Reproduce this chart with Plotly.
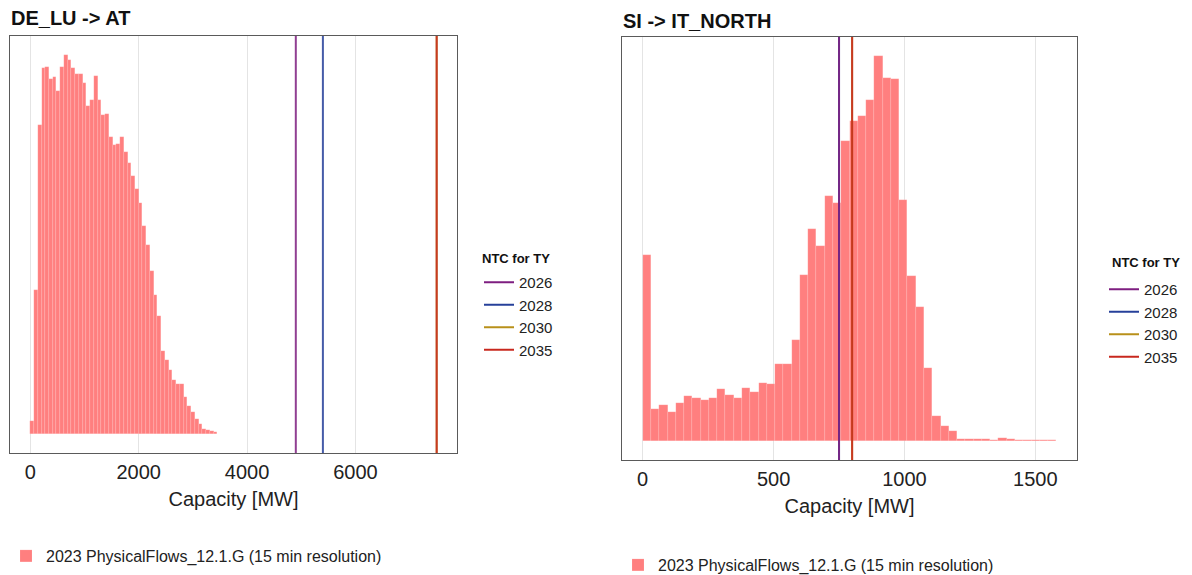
import numpy as np
import plotly.graph_objects as go

# ---------------- data ----------------
ntc_years = ["2026", "2028", "2030", "2035"]
de_at_ntc = [4900, 5400, 7500, 7500]
si_it_ntc = [750, 750, 800, 800]

hist_name = "2023 PhysicalFlows_12.1.G (15 min resolution)"
legend_title = "NTC for TY"
x_title = "Capacity [MW]"
panel_titles = ["DE_LU -> AT", "SI -> IT_NORTH"]

# DE_LU -> AT histogram: 50 bins between these edges
de_at_bin_range = [0, 3450]
de_at_counts = [40, 430, 920, 1092, 1095, 1058, 1063, 1023, 1095, 1130,
                1115, 1090, 1073, 1073, 1045, 977, 995, 1067, 995, 950,
                955, 885, 863, 865, 885, 840, 808, 770, 730, 690,
                620, 565, 485, 415, 352, 247, 220, 190, 160, 150,
                150, 110, 85, 65, 45, 30, 15, 13, 10, 5]

# SI -> IT_NORTH histogram: 50 bins between these edges
si_it_bin_range = [0, 1580]
si_it_counts = [1106, 190, 216, 170, 222, 266, 256, 240, 252, 306,
                272, 252, 316, 290, 346, 340, 460, 460, 600, 990,
                1260, 1160, 1456, 1416, 1786, 1902, 1936, 2032, 2290, 2162,
                2152, 1436, 980, 796, 432, 150, 90, 60, 10, 12,
                12, 10, 2, 16, 10, 4, 6, 4, 4, 4]

de_at_ticks = [0, 2000, 4000, 6000]
si_it_ticks = [0, 500, 1000, 1500]

# ---------------- styles ----------------
PAGE_MARGIN = 8            # default body margin of the html page
W, H = 1192 - PAGE_MARGIN, 575 - PAGE_MARGIN
FONT = "Liberation Sans, Arial, sans-serif"
ntc_colors = ["#7E1E80", "#26409A", "#B8901A", "#C8281E"]
line_draw_order = [1, 0, 2, 3]   # which NTC line is painted first
hist_color = "#FF7F7F"
grid_color = "#E4E4E4"
frame_color = "#5A5A5A"
text_color = "#222222"


def px_x(p):
    return (p - PAGE_MARGIN) / W


def px_y(p):
    return 1 - (p - PAGE_MARGIN) / H


def bins(rng, counts):
    edges = np.linspace(rng[0], rng[1], len(counts) + 1)
    centers = (edges[:-1] + edges[1:]) / 2
    return centers, edges[1] - edges[0]


def padded(lo, hi, frac=0.05):
    d = hi - lo
    return [lo - frac * d, hi + frac * d]


fig = go.Figure()

panels = [
    dict(counts=de_at_counts, rng=de_at_bin_range, ntc=de_at_ntc, ticks=de_at_ticks,
         xa="x", ya="y", lg_ntc="legend", lg_hist="legend3"),
    dict(counts=si_it_counts, rng=si_it_bin_range, ntc=si_it_ntc, ticks=si_it_ticks,
         xa="x2", ya="y2", lg_ntc="legend2", lg_hist="legend4"),
]

for p in panels:
    centers, width = bins(p["rng"], p["counts"])
    fig.add_trace(go.Bar(
        x=centers, y=p["counts"], width=width,
        marker=dict(color=hist_color, line=dict(width=0.4, color="rgba(255,255,255,0.3)")),
        name=hist_name, legend=p["lg_hist"], xaxis=p["xa"], yaxis=p["ya"],
        showlegend=True,
    ))
    for yr, col in zip(ntc_years, ntc_colors):
        fig.add_trace(go.Scatter(
            x=[None], y=[None], mode="lines", line=dict(color=col, width=2),
            name=yr, legend=p["lg_ntc"], xaxis=p["xa"], yaxis=p["ya"], showlegend=True,
        ))
    for i in line_draw_order:
        val = p["ntc"][i]
        fig.add_shape(type="line", xref=p["xa"], yref=p["ya"] + " domain",
                      x0=val, x1=val, y0=0, y1=1,
                      line=dict(color=ntc_colors[i], width=2), opacity=0.85)

# axis ranges (5% padding like the original)
de_xr = padded(min(de_at_bin_range[0], min(de_at_ntc)), max(de_at_bin_range[1], max(de_at_ntc)))
si_xr = padded(min(si_it_bin_range[0], min(si_it_ntc)), max(si_it_bin_range[1], max(si_it_ntc)))
de_yr = padded(0, max(de_at_counts))
si_yr = padded(0, max(si_it_counts))

axis_common = dict(
    showgrid=True, gridcolor=grid_color, gridwidth=1, zeroline=False,
    showline=True, mirror=True, linecolor=frame_color, linewidth=1.3,
    ticks="outside", ticklen=1, tickcolor="rgba(0,0,0,0)",
    tickfont=dict(size=20, color=text_color, family=FONT),
)
yaxis_common = dict(
    showgrid=False, zeroline=False, showticklabels=False, ticks="",
    showline=True, mirror=True, linecolor=frame_color, linewidth=1.3,
)
xtitle = dict(text=x_title, font=dict(size=20, family=FONT, color=text_color), standoff=9)

legend_items = dict(font=dict(size=15, family=FONT, color=text_color), bgcolor="rgba(0,0,0,0)",
                    xanchor="left", yanchor="top")
legend_hist = dict(font=dict(size=16, family=FONT, color=text_color), bgcolor="rgba(0,0,0,0)",
                   xanchor="left", yanchor="middle")

fig.update_layout(
    width=W, height=H,
    margin=dict(l=0, r=0, t=0, b=0, autoexpand=False),
    paper_bgcolor="white", plot_bgcolor="white",
    font=dict(family=FONT, color=text_color),
    barmode="overlay", bargap=0,
    xaxis=dict(domain=[px_x(10), px_x(457)], anchor="y", range=de_xr, tickvals=de_at_ticks,
               title=xtitle, **axis_common),
    yaxis=dict(domain=[px_y(453), px_y(36)], anchor="x", range=de_yr, **yaxis_common),
    xaxis2=dict(domain=[px_x(622), px_x(1077)], anchor="y2", range=si_xr, tickvals=si_it_ticks,
                title=xtitle, **axis_common),
    yaxis2=dict(domain=[px_y(460), px_y(37)], anchor="x2", range=si_yr, **yaxis_common),
    legend=dict(x=px_x(479), y=px_y(266), **legend_items),
    legend2=dict(x=px_x(1104), y=px_y(273), **legend_items),
    legend3=dict(x=px_x(6), y=px_y(556), **legend_hist),
    legend4=dict(x=px_x(618), y=px_y(565), **legend_hist),
    annotations=[
        dict(text="<b>%s</b>" % panel_titles[0], x=px_x(9), y=px_y(18), xref="paper", yref="paper",
             xanchor="left", yanchor="middle", showarrow=False,
             font=dict(size=20, family=FONT, color="#111111")),
        dict(text="<b>%s</b>" % panel_titles[1], x=px_x(621), y=px_y(21), xref="paper", yref="paper",
             xanchor="left", yanchor="middle", showarrow=False,
             font=dict(size=20, family=FONT, color="#111111")),
        dict(text="<b>%s</b>" % legend_title, x=px_x(480), y=px_y(258), xref="paper", yref="paper",
             xanchor="left", yanchor="middle", showarrow=False,
             font=dict(size=13, family=FONT, color="#111111")),
        dict(text="<b>%s</b>" % legend_title, x=px_x(1110), y=px_y(262), xref="paper", yref="paper",
             xanchor="left", yanchor="middle", showarrow=False,
             font=dict(size=13, family=FONT, color="#111111")),
    ],
)

fig.write_html("out.html")
